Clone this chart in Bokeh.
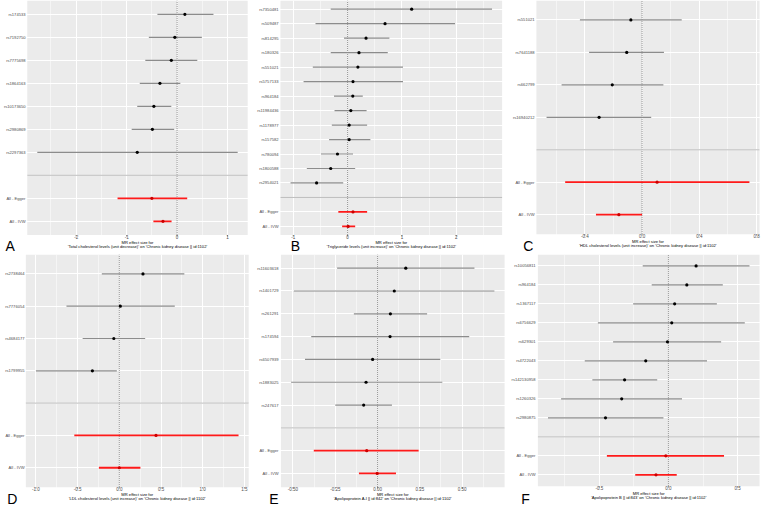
from bokeh.plotting import figure
from bokeh.models import Range1d, FixedTicker, Label, BoxAnnotation
from bokeh.layouts import gridplot
from bokeh.embed import file_html
from bokeh.resources import INLINE

SUM_LABELS = ["All - Egger", "All - IVW"]
OUTCOME = "'Chronic kidney disease || id:1102'"

# ---- Panel A ----
a_snp = ["rs174533", "rs7192750", "rs7775698", "rs1864163", "rs10173650", "rs2980869", "rs2297363"]
a_b = [0.154, -0.045, -0.115, -0.34, -0.46, -0.49, -0.79]
a_lo = [-0.39, -0.56, -0.63, -0.74, -0.79, -0.90, -2.77]
a_up = [0.72, 0.49, 0.40, 0.064, -0.115, -0.058, 1.20]
a_sum_b = [-0.50, -0.28]
a_sum_lo = [-1.18, -0.47]
a_sum_up = [0.20, -0.11]
a_ticks = [-2, -1, 0, 1]
a_tick_labels = ["-2", "-1", "0", "1"]
a_exposure = "'Total cholesterol levels (unit decrease)'"

# ---- Panel B ----
b_snp = ["rs7350481", "rs509487", "rs814295", "rs180326", "rs551021", "rs5757133", "rs964184",
         "rs11984436", "rs1178977", "rs157582", "rs780094", "rs1800588", "rs2954021"]
b_b = [1.18, 0.69, 0.34, 0.21, 0.19, 0.10, 0.096, 0.06, 0.03, 0.03, -0.186, -0.31, -0.57]
b_lo = [-0.31, -0.59, -0.066, -0.31, -0.64, -0.81, -0.25, -0.24, -0.29, -0.34, -0.49, -0.75, -1.05]
b_up = [2.66, 1.98, 0.77, 0.74, 1.02, 1.02, 0.28, 0.35, 0.36, 0.42, 0.10, 0.14, -0.08]
b_sum_b = [0.10, 0.01]
b_sum_lo = [-0.17, -0.10]
b_sum_up = [0.36, 0.14]
b_ticks = [-1, 0, 1, 2]
b_tick_labels = ["-1", "0", "1", "2"]
b_exposure = "'Triglyceride levels (unit increase)'"

# ---- Panel C ----
c_snp = ["rs551021", "rs7641188", "rs662799", "rs16940212"]
c_b = [-0.078, -0.107, -0.208, -0.30]
c_lo = [-0.434, -0.37, -0.562, -0.667]
c_up = [0.277, 0.153, 0.149, 0.064]
c_sum_b = [0.105, -0.162]
c_sum_lo = [-0.537, -0.322]
c_sum_up = [0.75, 0.0]
c_ticks = [-0.4, 0.0, 0.4, 0.8]
c_tick_labels = ["-0.4", "0.0", "0.4", "0.8"]
c_exposure = "'HDL cholesterol levels (unit increase)'"

# ---- Panel D ----
d_snp = ["rs2738464", "rs7776054", "rs4684177", "rs1799955"]
d_b = [0.284, 0.012, -0.066, -0.323]
d_lo = [-0.21, -0.634, -0.44, -1.0]
d_up = [0.78, 0.665, 0.31, -0.03]
d_sum_b = [0.44, 0.0]
d_sum_lo = [-0.54, -0.245]
d_sum_up = [1.43, 0.253]
d_ticks = [-1.0, -0.5, 0.0, 0.5, 1.0, 1.5]
d_tick_labels = ["-1.0", "-0.5", "0.0", "0.5", "1.0", "1.5"]
d_exposure = "'LDL cholesterol levels (unit increase)'"

# ---- Panel E ----
e_snp = ["rs11603618", "rs1401729", "rs261291", "rs174594", "rs6507939", "rs1883025", "rs247617"]
e_b = [0.167, 0.099, 0.076, 0.074, -0.029, -0.068, -0.082]
e_lo = [-0.239, -0.495, -0.14, -0.392, -0.429, -0.511, -0.25]
e_up = [0.573, 0.691, 0.293, 0.542, 0.371, 0.383, 0.085]
e_sum_b = [-0.064, -0.002]
e_sum_lo = [-0.377, -0.11]
e_sum_up = [0.243, 0.109]
e_ticks = [-0.5, -0.25, 0.0, 0.25, 0.5]
e_tick_labels = ["-0.50", "-0.25", "0.00", "0.25", "0.50"]
e_exposure = "'Apolipoprotein A-I || id:842'"

# ---- Panel F ----
f_snp = ["rs10056811", "rs964184", "rs1367117", "rs6756629", "rs629301", "rs4722043",
         "rs142130958", "rs1260326", "rs2980875"]
f_b = [0.20, 0.133, 0.045, 0.024, -0.007, -0.164, -0.317, -0.338, -0.455]
f_lo = [-0.186, -0.121, -0.255, -0.51, -0.40, -0.605, -0.55, -0.776, -0.871]
f_up = [0.586, 0.393, 0.35, 0.552, 0.381, 0.279, -0.081, 0.098, -0.036]
f_sum_b = [-0.019, -0.09]
f_sum_lo = [-0.445, -0.24]
f_sum_up = [0.402, 0.06]
f_ticks = [-0.5, 0.0, 0.5]
f_tick_labels = ["-0.5", "0.0", "0.5"]
f_exposure = "'Apolipoprotein B || id:843'"

FONT = "Liberation Sans"
W = 254


def panel(snp, b, lo, up, sb, slo, sup, ticks, tick_labels, exposure, letter,
          H, ref_h, gl, gr, gb, letter_x, letter_base):
    """gl/gr: gray-panel left/right margins, gb: gray bottom, in reference pixels."""
    sxf = W / 259.3
    syf = H / ref_h
    Lpx = gl * sxf
    Rpx = gr * sxf
    gray_bottom = gb * syf
    Bpx = H - gray_bottom

    labels = list(snp) + [""] + SUM_LABELS
    nrow = len(labels)
    ypos = [nrow - 1 - i for i in range(nrow)]
    y_snp = ypos[:len(snp)]
    y_blank = ypos[len(snp)]
    y_sum = ypos[len(snp) + 1:]

    all_lo = list(lo) + list(slo) + [0]
    all_up = list(up) + list(sup) + [0]
    span_x = max(all_up) - min(all_lo)
    xmin = min(all_lo) - 0.05 * span_x
    xmax = max(all_up) + 0.05 * span_x
    kx = (xmax - xmin) / (W - Lpx - Rpx)
    ymin, ymax = -0.6, nrow - 1 + 0.6
    ky = (ymax - ymin) / gray_bottom

    p = figure(width=W, height=H,
               x_range=Range1d(xmin - Lpx * kx, xmax + Rpx * kx),
               y_range=Range1d(ymin - Bpx * ky, ymax),
               output_backend="svg", toolbar_location=None, tools="",
               min_border_left=0, min_border_right=0, min_border_top=0, min_border_bottom=0)
    p.background_fill_color = "white"
    p.border_fill_color = "white"
    p.outline_line_color = None

    p.add_layout(BoxAnnotation(left=xmin, right=xmax, bottom=ymin, top=ymax,
                               fill_color="#EBEBEB", fill_alpha=1, line_color=None,
                               level="image"))

    step = ticks[1] - ticks[0]
    minor = [ticks[0] - step / 2] + [t + step / 2 for t in ticks]
    xt = FixedTicker(ticks=ticks, minor_ticks=minor)
    p.xaxis.ticker = xt
    p.xgrid.ticker = xt
    p.xaxis.visible = False

    yt = FixedTicker(ticks=ypos, minor_ticks=[])
    p.yaxis.ticker = yt
    p.ygrid.ticker = yt
    p.yaxis.major_label_overrides = {y: l for y, l in zip(ypos, labels)}
    p.yaxis.axis_line_color = None
    p.yaxis.major_tick_line_color = None
    p.yaxis.major_tick_out = 0
    p.yaxis.major_tick_in = 0
    p.yaxis.minor_tick_line_color = None
    p.yaxis.major_label_standoff = -int(round(Lpx - 2))
    p.yaxis.major_label_text_font = FONT
    p.yaxis.major_label_text_font_size = "4.1px"
    p.yaxis.major_label_text_color = "#4D4D4D"

    p.xgrid.grid_line_color = "white"
    p.xgrid.grid_line_width = 1
    p.xgrid.minor_grid_line_color = "white"
    p.xgrid.minor_grid_line_width = 0.5
    p.ygrid.grid_line_color = "white"
    p.ygrid.grid_line_width = 1

    # dotted zero line and grey separator, limited to the panel area
    p.segment(x0=[0], x1=[0], y0=[ymin], y1=[ymax], line_color="#555555",
              line_width=0.7, line_dash="1 1")
    p.segment(x0=[xmin], x1=[xmax], y0=[y_blank], y1=[y_blank], line_color="#BEBEBE",
              line_width=1)

    # x tick marks under the panel
    p.segment(x0=ticks, x1=ticks, y0=[ymin] * len(ticks), y1=[ymin - 1.4 * ky] * len(ticks),
              line_color="#333333", line_width=0.6)

    p.segment(x0=lo, x1=up, y0=y_snp, y1=y_snp, line_color="#8c8c8c", line_width=1.2)
    p.segment(x0=slo, x1=sup, y0=y_sum, y1=y_sum, line_color="#ff1a1a", line_width=1.8)
    p.scatter(x=b, y=y_snp, marker="circle", size=3.2, fill_color="black", line_color=None)
    p.scatter(x=sb, y=y_sum, marker="circle", size=3.2, fill_color="#cc0000", line_color=None)

    for t, lab in zip(ticks, tick_labels):
        p.add_layout(Label(x=t, y=gray_bottom + 2.1 * syf, x_units="data", y_units="canvas",
                           text=lab, text_font=FONT, text_font_size="4.5px",
                           text_color="#4D4D4D", text_align="center", text_baseline="middle"))

    xc = (xmin + xmax) / 2
    for txt, dy in (("MR effect size for", 7.7), (exposure + " on " + OUTCOME, 11.3)):
        p.add_layout(Label(x=xc, y=gray_bottom + dy * syf, x_units="data", y_units="canvas",
                           text=txt, text_font=FONT, text_font_size="4.1px",
                           text_color="black", text_align="center", text_baseline="middle"))

    p.add_layout(Label(x=letter_x * sxf, y=letter_base * syf, x_units="canvas", y_units="canvas",
                       text=letter, text_font=FONT, text_font_size="14px",
                       text_color="black", text_baseline="alphabetic"))
    return p


pa = panel(a_snp, a_b, a_lo, a_up, a_sum_b, a_sum_lo, a_sum_up, a_ticks, a_tick_labels,
           a_exposure, "A", 254, 262, 25.5, 7, 242, 5, 253.5)
pb = panel(b_snp, b_b, b_lo, b_up, b_sum_b, b_sum_lo, b_sum_up, b_ticks, b_tick_labels,
           b_exposure, "B", 254, 262, 26.5, 6.5, 242, 37, 253.5)
pc = panel(c_snp, c_b, c_lo, c_up, c_sum_b, c_sum_lo, c_sum_up, c_ticks, c_tick_labels,
           c_exposure, "C", 254, 262, 28.5, 3, 241, 15, 253.5)
pd = panel(d_snp, d_b, d_lo, d_up, d_sum_b, d_sum_lo, d_sum_up, d_ticks, d_tick_labels,
           d_exposure, "D", 253, 261, 24, 6, 240, 7, 251.8)
pe = panel(e_snp, e_b, e_lo, e_up, e_sum_b, e_sum_lo, e_sum_up, e_ticks, e_tick_labels,
           e_exposure, "E", 253, 261, 27, 4, 240, 15, 251.8)
pf = panel(f_snp, f_b, f_lo, f_up, f_sum_b, f_sum_lo, f_sum_up, f_ticks, f_tick_labels,
           f_exposure, "F", 253, 261, 30, 3, 239, 13, 251.8)

grid = gridplot([[pa, pb, pc], [pd, pe, pf]], toolbar_location=None)
open("out.html", "w").write(file_html(grid, INLINE))
